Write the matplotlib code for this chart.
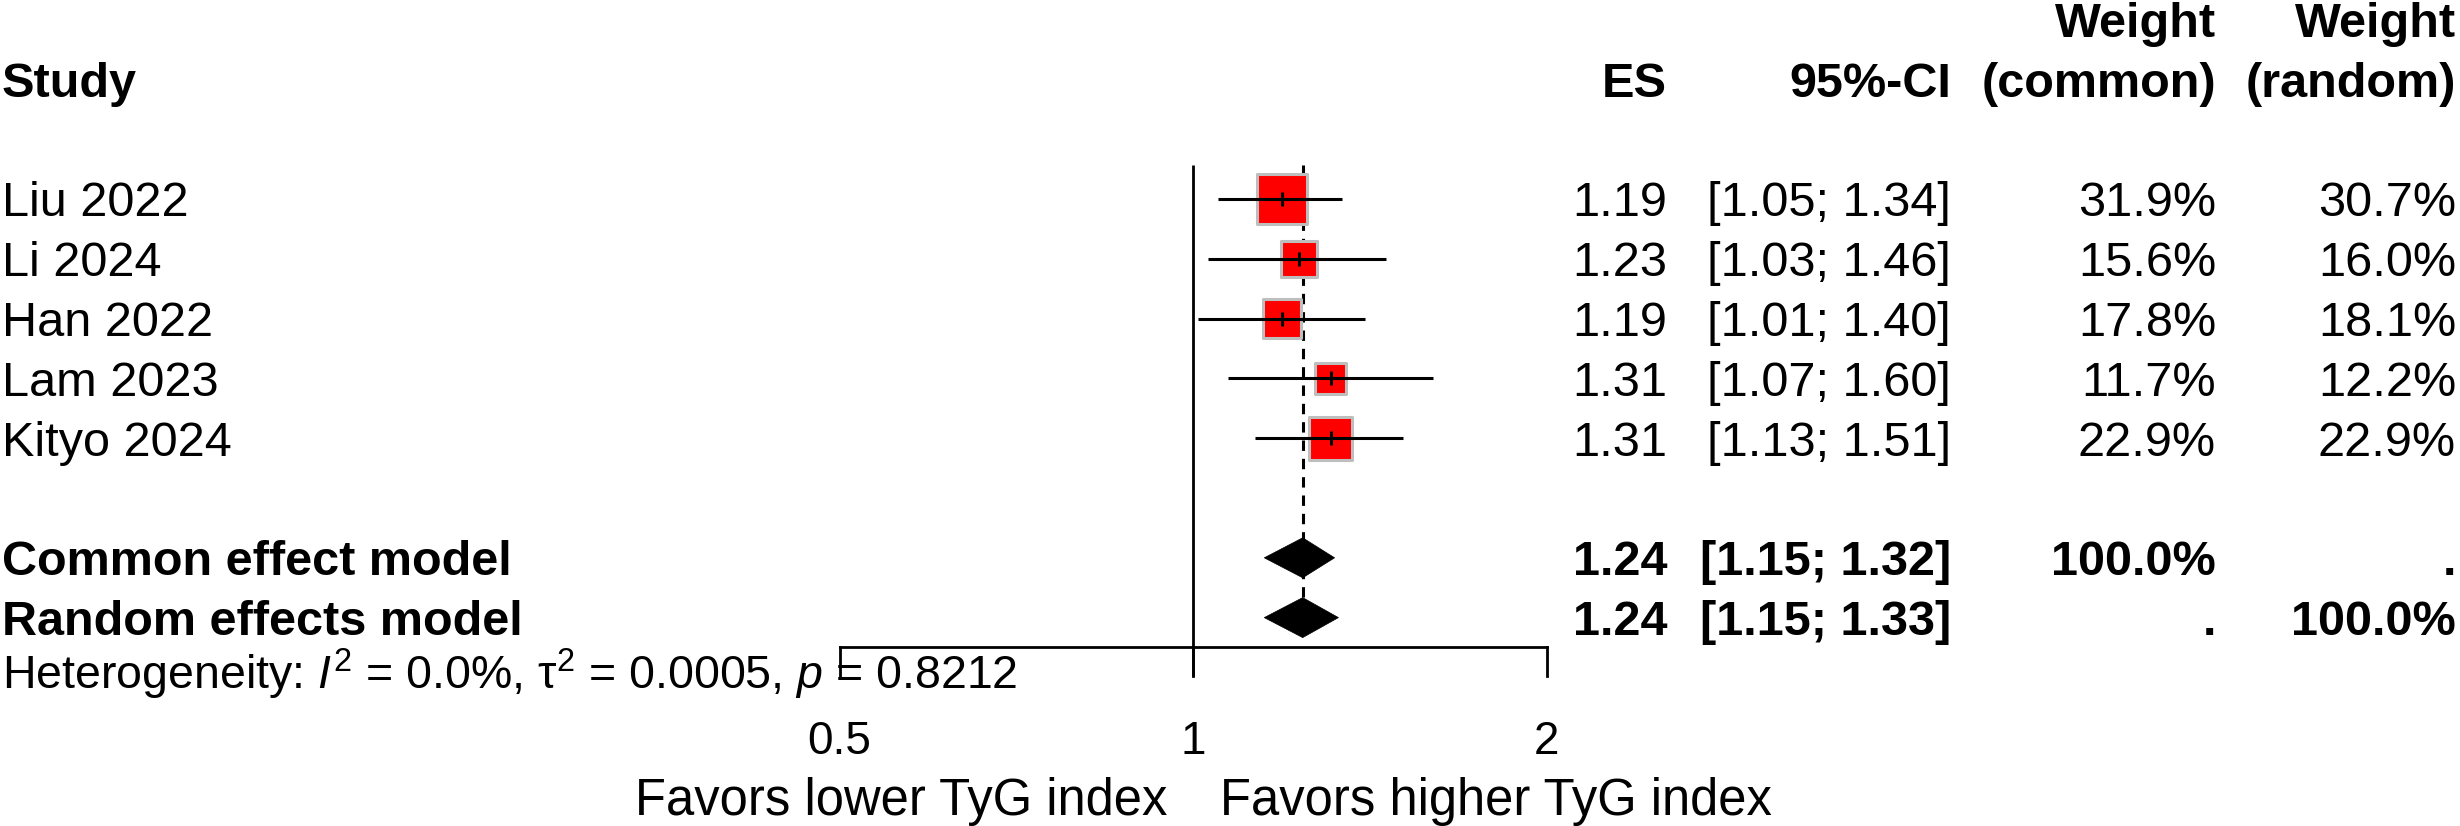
import numpy as np
import matplotlib
matplotlib.use("Agg")
import matplotlib.pyplot as plt
from matplotlib.patches import Polygon
from matplotlib.transforms import blended_transform_factory

# data
studies = ["Liu 2022", "Li 2024", "Han 2022", "Lam 2023", "Kityo 2024"]
es = [1.19, 1.23, 1.19, 1.31, 1.31]
ci_low = [1.05, 1.03, 1.01, 1.07, 1.13]
ci_high = [1.34, 1.46, 1.40, 1.60, 1.51]
w_common = [31.9, 15.6, 17.8, 11.7, 22.9]
w_random = [30.7, 16.0, 18.1, 12.2, 22.9]

common = (1.24, 1.15, 1.32)
random_eff = (1.24, 1.15, 1.33)
i2, tau2, p_het = 0.0, 0.0005, 0.8212

xticks = [0.5, 1, 2]
label_left = "Favors lower TyG index"
label_right = "Favors higher TyG index"

plt.rcParams["font.family"] = "Liberation Sans"
plt.rcParams["mathtext.fontset"] = "custom"
plt.rcParams["mathtext.rm"] = "Liberation Sans"
plt.rcParams["mathtext.it"] = "Liberation Sans:italic"
plt.rcParams["mathtext.bf"] = "Liberation Sans:bold"

W, H, DPI = 2460, 826, 100
fig = plt.figure(figsize=(W / DPI, H / DPI), dpi=DPI)
ax = fig.add_axes([0, 0, 1, 1])
ax.set_xscale("log")
ax.axis("off")

# pixel layout: x=1 at 1193 px, one doubling = 353.5 px; rows 59.8 px apart
X0, XD = 1193.0, 353.5
Y0, YD = 199.0, 59.8
ax.set_xlim(2 ** ((0 - X0) / XD), 2 ** ((W - X0) / XD))
ax.set_ylim((H - Y0) / YD, (0 - Y0) / YD)

tr = blended_transform_factory(ax.transAxes, ax.transData)
FS = 35
FS_HET = 33.5
FS_TICK = 33
FS_LAB = 36.5


def base(row, fs):
    # baseline so that cap height is centred on the row
    return row + 0.716 * fs * DPI / 72 / 2 / YD


col_es = 1667 / W
col_ci = 1951 / W
col_wc = 2216 / W
col_wr = 2456 / W
col_study = 2 / W


def row_text(row, name, e, lo, hi, wc, wr, bold=False):
    fw = "bold" if bold else "normal"
    y = base(row, FS)
    ax.text(col_study, y, name, transform=tr, ha="left", va="baseline", fontsize=FS, fontweight=fw)
    ax.text(col_es, y, f"{e:.2f}", transform=tr, ha="right", va="baseline", fontsize=FS, fontweight=fw)
    ax.text(col_ci, y, f"[{lo:.2f}; {hi:.2f}]", transform=tr, ha="right", va="baseline", fontsize=FS, fontweight=fw)
    ax.text(col_wc, y, wc, transform=tr, ha="right", va="baseline", fontsize=FS, fontweight=fw)
    ax.text(col_wr, y, wr, transform=tr, ha="right", va="baseline", fontsize=FS, fontweight=fw)


# header
for col, top, bottom, ha in [(col_study, None, "Study", "left"), (col_es, None, "ES", "right"),
                             (col_ci, None, "95%-CI", "right"), (col_wc, "Weight", "(common)", "right"),
                             (col_wr, "Weight", "(random)", "right")]:
    if top:
        ax.text(col, base(-3, FS), top, transform=tr, ha=ha, va="baseline", fontsize=FS, fontweight="bold")
    ax.text(col, base(-2, FS), bottom, transform=tr, ha=ha, va="baseline", fontsize=FS, fontweight="bold")

rows = np.arange(len(studies))
for i, s in enumerate(studies):
    row_text(rows[i], s, es[i], ci_low[i], ci_high[i], f"{w_common[i]:.1f}%", f"{w_random[i]:.1f}%")

row_c, row_r = len(studies) + 1, len(studies) + 2
row_text(row_c, "Common effect model", *common, "100.0%", ".", bold=True)
row_text(row_r, "Random effects model", *random_eff, ".", "100.0%", bold=True)

het = (r"Heterogeneity: $\mathit{I}^{2}$ = %.1f%%, $\mathrm{\tau}^{2}$ = %.4f, $\mathit{p}$ = %.4f"
       % (i2, tau2, p_het))
ax.text(col_study, base(row_r + 1, FS_HET) - 0.08, het, transform=tr, ha="left", va="baseline",
        fontsize=FS_HET)

# reference and pooled lines
y_top = (165 - Y0) / YD
y_axis = (647 - Y0) / YD
y_tick = (676 - Y0) / YD
dh = 20 / YD
ax.plot([1, 1], [y_top, y_tick], color="black", lw=2, solid_capstyle="butt", zorder=2)
ax.plot([common[0], common[0]], [y_top, row_r + dh], color="black", lw=2.2, dashes=(3.4, 2.6), zorder=1)

# study CIs and boxes
side_px = 50 * np.sqrt(np.array(w_random) / max(w_random))
ax.hlines(rows, ci_low, ci_high, color="black", lw=2.2, zorder=4)
ax.scatter(es, rows, s=(side_px * 0.72) ** 2, marker="s", color="#FF0000",
           edgecolor="#BEBEBE", linewidth=2.2, zorder=3)
ax.plot(es, rows, ls="none", marker="|", ms=9.5, mew=2.2, color="black", zorder=5)

# diamonds
for row, (e, lo, hi) in [(row_c, common), (row_r, random_eff)]:
    ax.add_patch(Polygon([(lo, row), (e, row - dh), (hi, row), (e, row + dh)],
                         closed=True, facecolor="black", edgecolor="black", lw=0.5, zorder=4))

# x axis
ax.plot([xticks[0], xticks[-1]], [y_axis, y_axis], color="black", lw=2, zorder=2)
for t in xticks:
    ax.plot([t, t], [y_axis, y_tick], color="black", lw=2, zorder=2)
    ax.text(t, base(row_r + 2, FS_TICK), f"{t:g}", ha="center", va="baseline", fontsize=FS_TICK)

ax.text(2 ** (-26 / XD), base(row_r + 3, FS_LAB), label_left, ha="right", va="baseline", fontsize=FS_LAB)
ax.text(2 ** (27 / XD), base(row_r + 3, FS_LAB), label_right, ha="left", va="baseline", fontsize=FS_LAB)

fig.savefig("out.png", dpi=DPI)
